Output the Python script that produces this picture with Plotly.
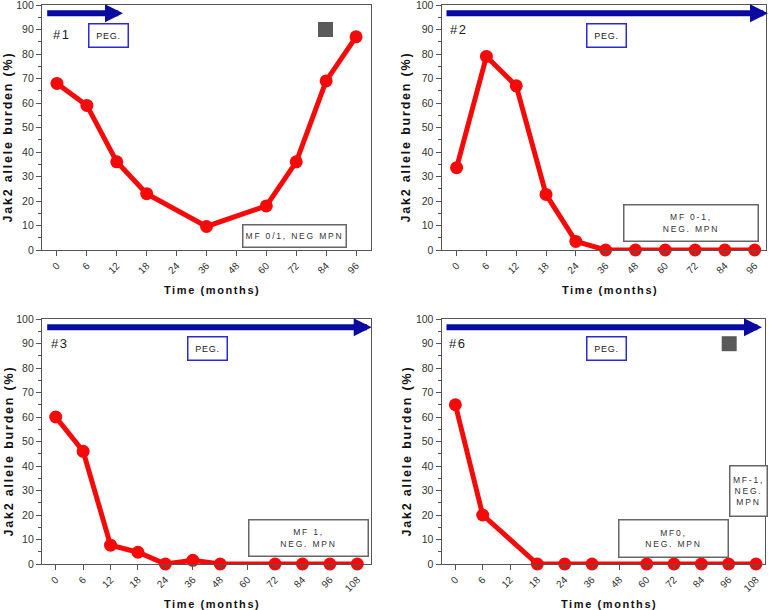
import plotly.graph_objects as go

# ---------------- data ----------------
months_a = ["0", "6", "12", "18", "24", "36", "48", "60", "72", "84", "96"]
months_b = ["0", "6", "12", "18", "24", "36", "48", "60", "72", "84", "96", "108"]

p1_vals = [68, 59, 36, 23, None, 9.6, None, 18, 36, 69, 87]
p2_vals = [33.6, 79, 67, 22.7, 3.5, 0, 0, 0, 0, 0, 0]
p3_vals = [60, 46, 7.7, 4.8, 0, 1.5, 0, None, 0, 0, 0, 0]
p4_vals = [65, 20, None, 0, 0, 0, None, 0, 0, 0, 0, 0]

panel_ids = ["#1", "#2", "#3", "#6"]
y_ticks = list(range(0, 101, 10))

W, H = 775, 610
FONT = "Liberation Sans, Arial, sans-serif"
RED = "#f50a0a"
BLUE = "#0a0aa0"


def spaced(txt, px):
    return '<span style="letter-spacing:%spx">%s</span>' % (px, txt)


# pixel layout of plot areas: (left, right, top, bottom)
areas = [(42, 371, 5, 250), (441.7, 766, 5, 250), (42, 371, 319, 564), (441.7, 765, 319, 564)]
xranges = [[-0.5, 10.5], [-0.5, 10.38], [-0.5, 11.5], [-0.5, 11.33]]
cats = [months_a, months_a, months_b, months_b]
vals = [p1_vals, p2_vals, p3_vals, p4_vals]

fig = go.Figure()
for i in range(4):
    n = "" if i == 0 else str(i + 1)
    fig.add_trace(go.Scatter(
        x=cats[i], y=vals[i], mode="lines+markers", connectgaps=True,
        line=dict(color=RED, width=5), marker=dict(color=RED, size=13),
        cliponaxis=False, showlegend=False, xaxis="x" + n, yaxis="y" + n))
    l, r, t, b = areas[i]
    fig.layout["xaxis" + n] = dict(
        domain=[l / W, r / W], anchor="y" + n, type="category", automargin=False,
        categoryorder="array", categoryarray=cats[i], range=xranges[i],
        showline=True, mirror=True, linecolor="#555", linewidth=1.3,
        ticks="outside", ticklen=5, tickcolor="#555", tickangle=-45,
        tickfont=dict(family=FONT, size=10, color="#333"), ticklabeloverflow="allow",
        showgrid=False, zeroline=False, fixedrange=True)
    fig.layout["yaxis" + n] = dict(
        domain=[1 - b / H, 1 - t / H], anchor="x" + n, range=[0, 100], automargin=False,
        tickvals=y_ticks, showline=True, mirror=True, linecolor="#555", linewidth=1.3,
        ticks="outside", ticklen=5, tickcolor="#555",
        minor=dict(dtick=5, ticks="outside", ticklen=3, tickcolor="#555"),
        tickfont=dict(family=FONT, size=10.5, color="#333"), ticklabeloverflow="allow",
        showgrid=False, zeroline=False, fixedrange=True)

shapes = []
annots = []


def dom(i, px, py):
    l, r, t, b = areas[i]
    return (px - l) / (r - l), (b - py) / (b - t)


# arrows (tail x, tip x, y in px)
arrows = [(45.7, 123, 13.3), (445, 768, 13.3), (45.7, 371.7, 327.3), (445, 762, 327.3)]
# PEG box centres
peg = [(108.5, 35), (606, 35), (207.2, 348.5), (606.2, 348.5)]
# panel id label left/centre
ids = [(51, 34), (448, 29.3), (49, 343.3), (446.5, 343.3)]

for i in range(4):
    n = "" if i == 0 else str(i + 1)
    xr, yr = "x" + n + " domain", "y" + n + " domain"
    tx, ty = dom(i, arrows[i][1], arrows[i][2])
    sx, _ = dom(i, arrows[i][0], arrows[i][2])
    annots.append(dict(xref=xr, yref=yr, axref=xr, ayref=yr, x=tx, y=ty, ax=sx, ay=ty,
                       text="", showarrow=True, arrowhead=2, arrowsize=0.6,
                       arrowwidth=6, arrowcolor=BLUE))
    px, py = dom(i, *peg[i])
    annots.append(dict(xref=xr, yref=yr, x=px, y=py, xanchor="center", yanchor="middle",
                       text=spaced("PEG.", 0.8), showarrow=False,
                       width=38, height=22, borderpad=0, bordercolor="#2a2ad6", borderwidth=1.5,
                       bgcolor="white", font=dict(family=FONT, size=9, color="#222")))
    ix, iy = dom(i, *ids[i])
    annots.append(dict(xref=xr, yref=yr, x=ix, y=iy, text=spaced(panel_ids[i], 1.5), showarrow=False,
                       xanchor="left", yanchor="middle",
                       font=dict(family=FONT, size=13, color="#222")))
    # axis titles
    l, r, t, b = areas[i]
    cx = (l + r) / 2 + 6
    annots.append(dict(xref="paper", yref="paper", x=cx / W, y=1 - (b + 40) / H,
                       xanchor="center", yanchor="middle",
                       text="<b>" + spaced("Time (months)", 1.6) + "</b>", showarrow=False,
                       font=dict(family=FONT, size=11, color="#111")))
    ytx = 8 if i in (0, 2) else 406
    annots.append(dict(xref="paper", yref="paper", x=ytx / W, y=1 - ((t + b) / 2 + 10) / H,
                       xanchor="center", yanchor="middle",
                       text="<b>" + spaced("Jak2 allele burden (%)", 1.8) + "</b>",
                       showarrow=False, textangle=-90,
                       font=dict(family=FONT, size=12.5, color="#111")))

# status boxes: (panel, centre px x, centre px y, w, h, text)
boxes = [
    (0, 294.3, 235.7, 102, 21, "MF 0/1, NEG MPN"),
    (1, 690.5, 222.7, 133, 35, "MF 0-1,<br>NEG. MPN"),
    (2, 308.3, 537.5, 118, 35, "MF 1,<br>NEG. MPN"),
    (3, 673, 538.8, 108, 36, "MF0,<br>NEG. MPN"),
    (3, 748.7, 490.5, 36, 49, "MF-1,<br>NEG.<br>MPN"),
]
for (i, bx, by, bw, bh, txt) in boxes:
    n = "" if i == 0 else str(i + 1)
    x, y = dom(i, bx, by)
    lines = "<br>".join(spaced(s, 1.8) for s in txt.split("<br>"))
    annots.append(dict(xref="x" + n + " domain", yref="y" + n + " domain", x=x, y=y,
                       xanchor="center", yanchor="middle",
                       text=lines, showarrow=False, width=bw, height=bh, borderpad=0,
                       bordercolor="#666", borderwidth=1.5, bgcolor="white",
                       font=dict(family=FONT, size=8.5, color="#333")))

# grey squares
squares = [(0, 325.5, 29.5), (3, 729.2, 343.7)]
for (i, sxp, syp) in squares:
    n = "" if i == 0 else str(i + 1)
    x0, y1 = dom(i, sxp - 7.5, syp - 7.5)
    x1, y0 = dom(i, sxp + 7.5, syp + 7.5)
    shapes.append(dict(type="rect", xref="x" + n + " domain", yref="y" + n + " domain",
                       x0=x0, x1=x1, y0=y0, y1=y1, fillcolor="#5a5a5a", line=dict(width=0)))

fig.update_layout(width=W, height=H, margin=dict(l=0, r=0, t=0, b=0),
                  paper_bgcolor="white", plot_bgcolor="white",
                  annotations=annots, shapes=shapes, showlegend=False)

fig.write_html("out.html", config={"displayModeBar": False},
               post_script="document.body.style.margin='0px';document.body.style.overflow='hidden';")
